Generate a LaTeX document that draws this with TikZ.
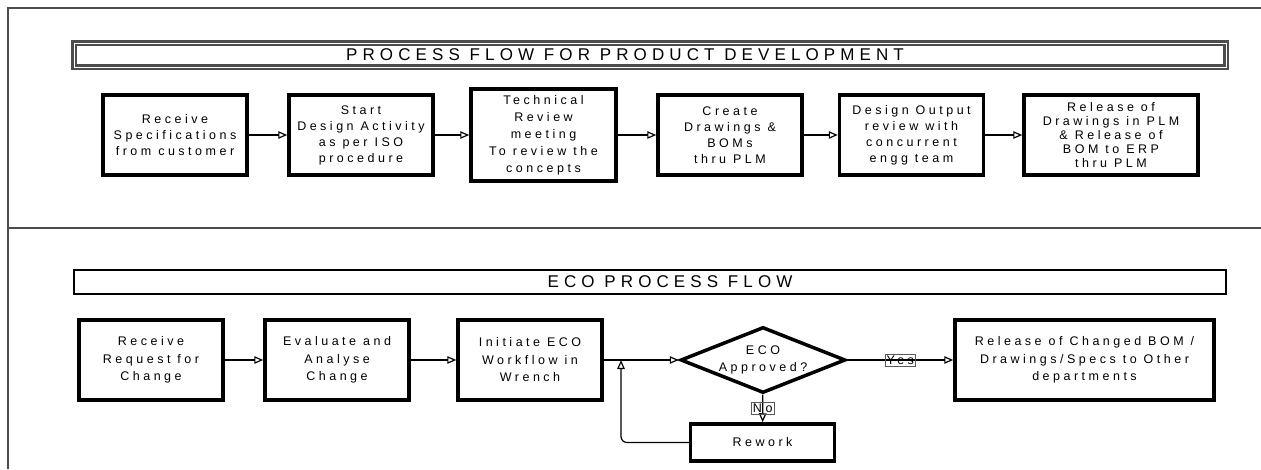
\documentclass[tikz,border=0pt]{standalone}
\usepackage{fontspec}
\setmainfont{Liberation Sans}
\newfontfamily\boxfont[LetterSpace=28]{Liberation Sans}
\newfontfamily\headfont[LetterSpace=30]{Liberation Sans}
\usetikzlibrary{arrows.meta,shapes.geometric}

\begin{document}
\begin{tikzpicture}[
  x=1pt,y=-1pt,
  stepbox/.style={draw,line width=3.5pt,inner sep=0pt,align=center,
    minimum width=144pt,minimum height=80pt,
    font=\boxfont\fontsize{12.5}{16}\selectfont},
  headbox/.style={inner sep=0pt,minimum width=1152pt,minimum height=24pt,
    font=\headfont\fontsize{17}{20}\selectfont},
  decision/.style={diamond,draw,line width=3.5pt,inner sep=0pt,
    minimum width=165pt,minimum height=66pt},
  tag/.style={draw=gray!70!black,line width=0.6pt,inner sep=1.5pt,
    font=\boxfont\fontsize{12.5}{15}\selectfont},
  frame/.style={line width=1.3pt,draw=gray!60!black},
  ]
  \useasboundingbox (0,0) rectangle (1261,469);
  \draw[frame] (1261,8) -- (8,8) -- (8,469);
  \draw[frame] (8,228) -- (1261,228);

  % product development
  \node[headbox,draw=gray!60!black,line width=2.4pt,double=white,double distance=1pt]
    (head1) at (650,55) {\hspace*{-50pt}PROCESS FLOW FOR PRODUCT DEVELOPMENT};
  \node[stepbox] (spec) at (175,135) {Receive\\Specifications\\from customer};
  \node[stepbox] (start) at (361,135) {Start\\Design Activity\\as per ISO\\procedure};
  \node[stepbox,minimum width=145pt,minimum height=92pt,
    font=\boxfont\fontsize{12.5}{17}\selectfont]
    (tech) at (543.5,135) {Technical\\Review\\meeting\\To review the\\concepts};
  \node[stepbox] (bom) at (730,135) {Create\\Drawings \&\\BOMs\\thru PLM};
  \node[stepbox] (out) at (911.5,135) {Design Output\\review with\\concurrent\\engg team};
  \node[stepbox,minimum width=174pt,font=\boxfont\fontsize{12.5}{14}\selectfont]
    (plm) at (1111,135) {Release of\\Drawings in PLM\\\& Release of\\BOM to ERP\\thru PLM};

  % eco
  \node[headbox,draw,line width=2pt] (head2) at (650,281.5) {\hspace*{40pt}ECO PROCESS FLOW};
  \node[stepbox,font=\boxfont\fontsize{12.5}{17.5}\selectfont]
    (req) at (151,360) {Receive\\Request for\\Change};
  \node[stepbox,font=\boxfont\fontsize{12.5}{17.5}\selectfont]
    (eval) at (337,360) {Evaluate and\\Analyse\\Change};
  \node[stepbox,font=\boxfont\fontsize{12.5}{17.5}\selectfont]
    (init) at (530,360) {Initiate ECO\\Workflow in\\Wrench};
  \node[decision,label={[align=center,font=\boxfont\fontsize{12.5}{17}\selectfont]center:ECO\\Approved?}]
    (appr) at (763,360) {};
  \node[stepbox,minimum width=259pt,font=\boxfont\fontsize{12.5}{17.5}\selectfont]
    (rel) at (1084.5,360) {Release of Changed BOM /\\Drawings/Specs to Other\\departments};
  \node[stepbox,minimum height=37pt] (rework) at (762.5,442.5) {Rework};
  \coordinate (back) at (621,360);

  \path[draw,line width=1.2pt,>={Triangle[open,length=9pt,width=7.5pt]}]
  (spec) edge[->] (start)
  (start) edge[->] (tech)
  (tech) edge[->] (bom)
  (bom) edge[->] (out)
  (out) edge[->] (plm)
  (req) edge[->] (eval)
  (eval) edge[->] (init)
  (init) edge[->] (appr)
  (appr) edge[->] node[tag]{Yes} (rel)
  (appr) edge[->] node[tag]{No} (rework)
  (rework) edge[->,rounded corners=6pt,to path={-| (\tikztotarget)}] (back);
\end{tikzpicture}
\end{document}
